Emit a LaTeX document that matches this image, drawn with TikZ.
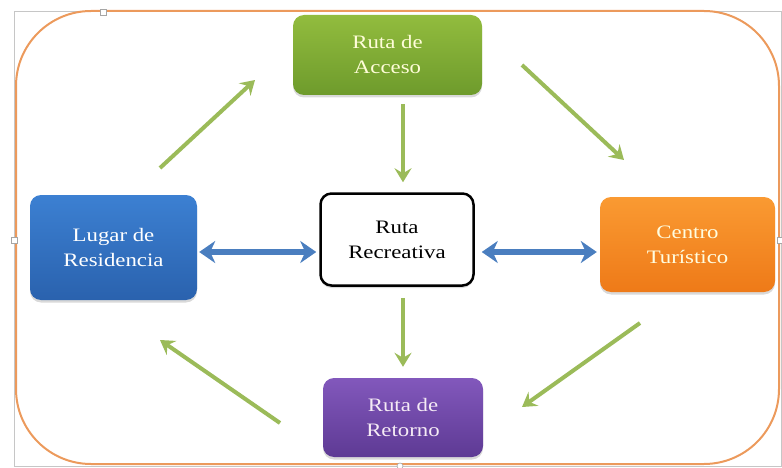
\documentclass[tikz,border=0pt]{standalone}
\usepackage{fontspec}
\setmainfont{Liberation Serif}[FakeStretch=1.2]
\usetikzlibrary{calc,shadows,arrows.meta}

\definecolor{verde}{HTML}{9BBB59}
\definecolor{azul}{HTML}{4A7EBF}
\definecolor{naranja}{HTML}{EC9A5C}
\definecolor{verdeA}{HTML}{92BC3E}
\definecolor{verdeB}{HTML}{6E9B2C}
\definecolor{azulA}{HTML}{3C80D2}
\definecolor{azulB}{HTML}{2A62AE}
\definecolor{narA}{HTML}{FA9A32}
\definecolor{narB}{HTML}{EE7A18}
\definecolor{moraA}{HTML}{8258BC}
\definecolor{moraB}{HTML}{5E3A94}
\tikzset{
    caja/.style={rounded corners=11pt,align=center,font=\fontsize{19}{25}\selectfont,
        drop shadow={shadow xshift=0pt,shadow yshift=-2.5pt,opacity=.3}},
    garrow/.style={color=verde,line width=4pt,-{Stealth[length=14pt,width=17pt,inset=5pt]}},
    barrow/.style={color=azul,line width=6pt,{Stealth[length=16pt,width=22pt,inset=5pt]}-{Stealth[length=16pt,width=22pt,inset=5pt]}},
    asa/.style={draw=gray!70,fill=white,line width=.6pt,minimum size=6pt,inner sep=0pt}
}

\begin{document}
\begin{tikzpicture}[x=1pt,y=-1pt]
        \useasboundingbox (0,0) rectangle (782,468);
        % marco
        \draw[gray!45,line width=1pt] (14,12) rectangle (781,466);
        \draw[naranja,line width=2pt,rounded corners=75pt] (16,11) rectangle (779,464);
        \node[asa] (h1) at (103,12) {};
        \node[asa] (h2) at (14,240) {};
        \node[asa] (h3) at (780,240) {};
        \node[asa,circle] (h4) at (400,466) {};
        % cajas
        \node[caja,top color=azulA,bottom color=azulB,text=white,
            minimum width=167pt,minimum height=105pt] (lugar) at (113.5,247.5) {Lugar de\\Residencia};
        \node[caja,top color=verdeA,bottom color=verdeB,text=yellow!15,
            minimum width=189pt,minimum height=80pt] (acceso) at (387.5,55) {Ruta de\\Acceso};
        \node[caja,draw=black,line width=2.5pt,fill=white,text=black,
            minimum width=153pt,minimum height=92pt] (recre) at (397,239.5) {Ruta\\Recreativa};
        \node[caja,top color=narA,bottom color=narB,text=yellow!12,
            minimum width=175pt,minimum height=95pt] (centro) at (687.5,244.5) {Centro\\Turístico};
        \node[caja,top color=moraA,bottom color=moraB,text=violet!8,
            minimum width=160pt,minimum height=79pt] (retorno) at (403,417.5) {Ruta de\\Retorno};
        % flechas
        \coordinate (g1) at (160,168);
        \coordinate (g2) at (255,80);
        \coordinate (g3) at (522,65);
        \coordinate (g4) at (624,160);
        \coordinate (g5) at (640,323);
        \coordinate (g6) at (522,407);
        \coordinate (g7) at (280,423);
        \coordinate (g8) at (160,340);
        \draw[garrow] (g1) -- (g2);
        \draw[garrow] (g3) -- (g4);
        \draw[garrow] (g5) -- (g6);
        \draw[garrow] (g7) -- (g8);
        \draw[garrow,shorten <=9pt,shorten >=10pt] (retorno.north |- acceso.south) -- (retorno.north |- recre.north);
        \draw[garrow,shorten <=11pt,shorten >=11pt] (retorno.north |- recre.south) -- (retorno.north);
        \draw[barrow] ($(lugar.east)+(2,4.5)$) -- ($(lugar.east -| recre.west)+(-3,4.5)$);
        \draw[barrow] ($(recre.east |- centro.east)+(7,7.5)$) -- ($(centro.west)+(-3,7.5)$);
    \end{tikzpicture}
\end{document}
